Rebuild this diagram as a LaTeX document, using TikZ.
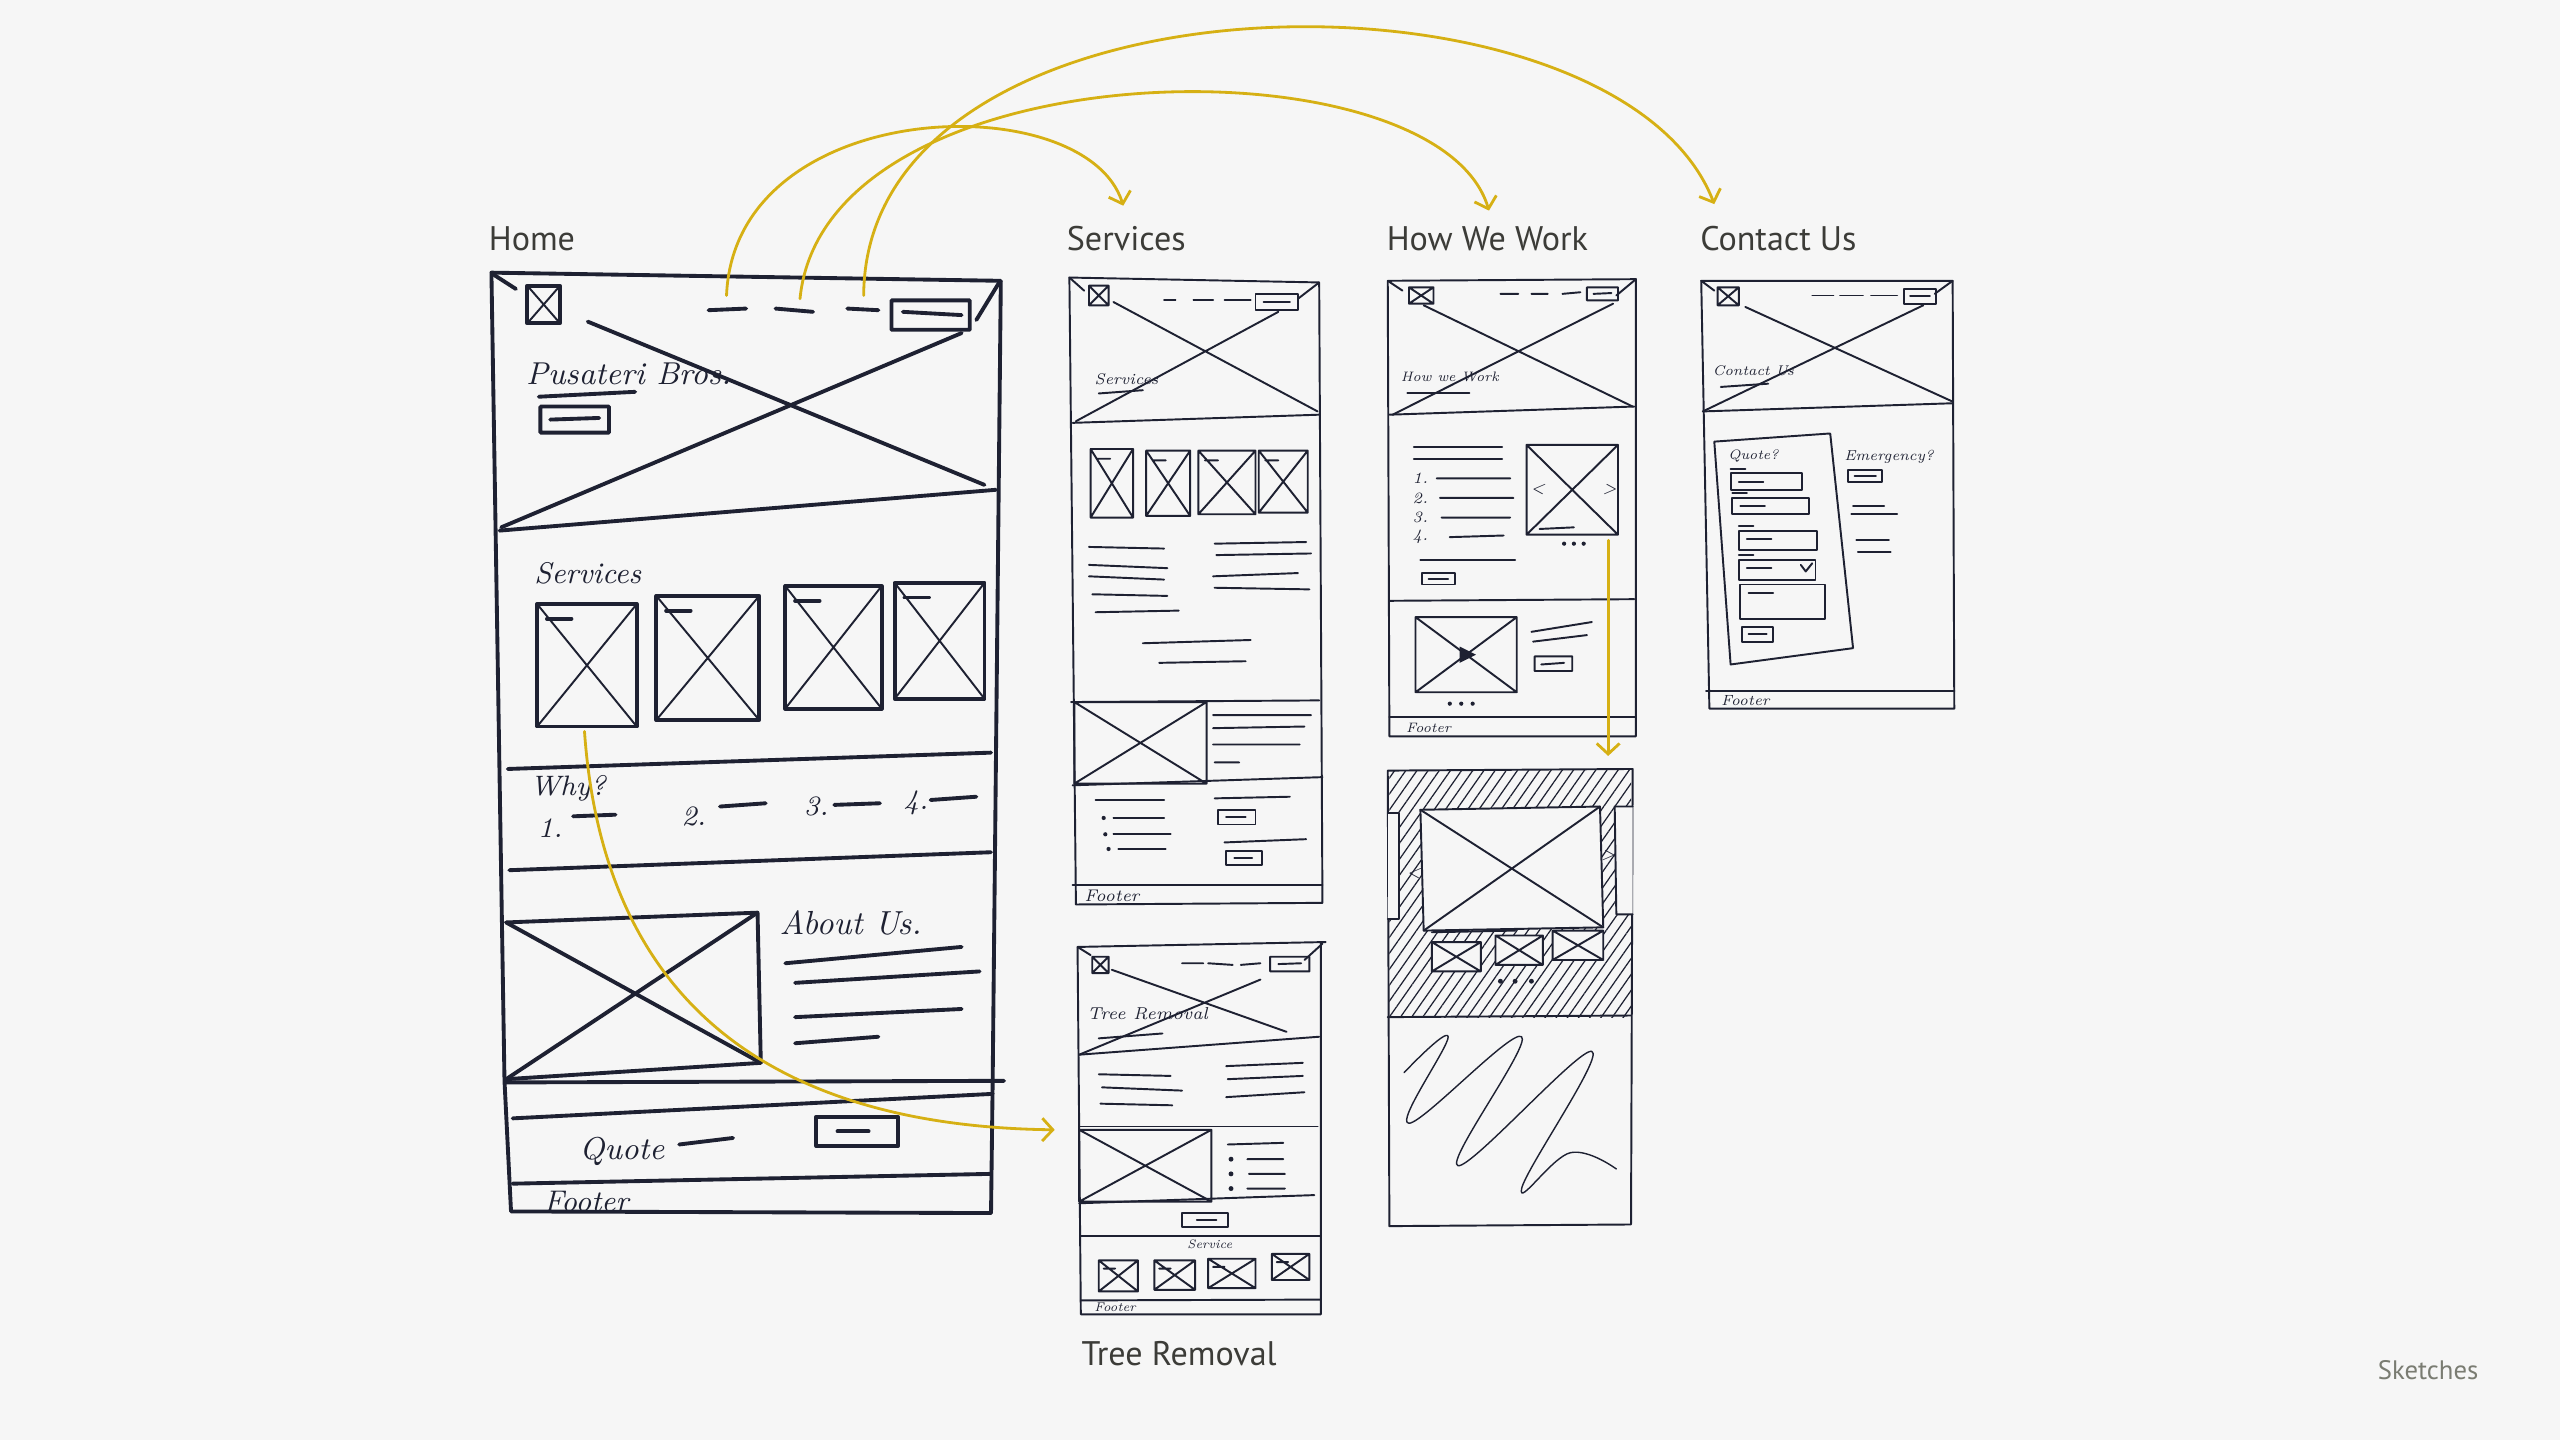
\documentclass[tikz,border=0pt]{standalone}
\usepackage{fontspec}
\newfontfamily\titlefont{PT Sans}
\usetikzlibrary{arrows.meta,patterns.meta}
\definecolor{bgc}{RGB}{246,246,246}
\definecolor{inkc}{RGB}{30,33,50}
\definecolor{linkc}{RGB}{214,176,20}
\definecolor{titlec}{RGB}{60,60,56}
\definecolor{notec}{RGB}{122,124,114}

\begin{document}
\begin{tikzpicture}[
    x=0.016327cm, y=-0.016327cm,
    >={Straight Barb[length=3pt,width=6.5pt]},
    ink/.style={draw=inkc, line width=0.55pt, line cap=round, line join=round},
    heavy/.style={ink, line width=1.1pt},
    fine/.style={ink, line width=0.4pt},
    hand/.style={text=inkc, inner sep=0pt, font=\itshape\fontsize{#1}{#1}\selectfont},
    hand/.default=5,
    title/.style={anchor=west, inner sep=0pt, text=titlec, font=\titlefont\fontsize{9.7}{11}\selectfont},
    link/.style={draw=linkc, line width=0.8pt, line cap=round, ->}
]
\path[use as bounding box, fill=bgc] (0,0) rectangle (1568,882);

% titres
\node[title] (home)    at (299,146)  {Home};
\node[title] (services) at (653,146) {Services};
\node[title] (howwork) at (849,146)  {How We Work};
\node[title] (contact) at (1041,146) {Contact Us};
\node[title] (treerem) at (662,829)  {Tree Removal};
\node[title, text=notec, font=\titlefont\fontsize{7.6}{9}\selectfont] (sketches) at (1456,839) {Sketches};

% Home : cadre et en-tete
\draw[heavy] (301,167) -- (613,172) -- (608,663) -- (607,743) -- (313,742) -- (309,662) -- cycle;
\draw[heavy] (323,175) rectangle (343,198);
\draw[ink] (323,175) -- (343,198) (323,198) -- (343,175);
\draw[heavy] (302,168) -- (316,177) (612,173) -- (598,196);
\draw[heavy] (434,190) -- (457,189) (475,189) -- (498,191) (519,189) -- (538,190);
\draw[heavy] (546,184) rectangle (594,202) (553,191) -- (589,193);
\draw[heavy] (360,197) -- (603,297) (307,323) -- (589,204);
\draw[heavy] (306,325) -- (610,300);
\node[hand=9] (hbrand) at (385,229) {Pusateri Bros.};
\draw[heavy] (330,243) -- (389,240);
\draw[heavy] (331,249) rectangle (373,265) (337,257) -- (367,256);

% Home : services
\node[hand=8.5] (hsrvtxt) at (360,351) {Services};
\foreach \xa/\ya/\xb/\yb in {329/370/390/445, 402/365/465/441, 481/359/540/434, 548/357/603/428}{
  \draw[heavy] (\xa,\ya) rectangle (\xb,\yb) ({\xa+6},{\ya+9}) -- ({\xa+21},{\ya+9});
  \draw[ink] (\xa,\ya) -- (\xb,\yb) (\xa,\yb) -- (\xb,\ya);
}
\draw[heavy] (311,471) -- (607,461);
\node[hand=8] (hwhy) at (348,483) {Why?};
\foreach \n/\px/\py in {1/337/507, 2/425/500, 3/500/494, 4/561/492}
  \node[hand=8] (hwhy\n) at (\px,\py) {\n.};
\draw[heavy] (351,500) -- (377,499) (441,494) -- (469,492) (511,493) -- (539,492) (570,490) -- (598,488);
\draw[heavy] (312,533) -- (607,522);

% Home : a propos, devis, pied
\draw[heavy] (310,565) -- (464,559) -- (466,651) -- (310,661);
\draw[heavy] (310,565) -- (466,651) (310,661) -- (464,559);
\node[hand=9.5] (habout) at (521,565) {About Us.};
\draw[heavy] (481,590) -- (589,580) (487,602) -- (600,595) (487,623) -- (589,618) (487,639) -- (538,635);
\draw[heavy] (310,663) -- (615,662);
\draw[heavy] (314,685) -- (608,670);
\node[hand=9] (hquote) at (381,705) {Quote};
\draw[heavy] (416,701) -- (449,697);
\draw[heavy] (500,684) rectangle (550,702) (513,693) -- (532,693);
\draw[heavy] (314,725) -- (607,719);
\node[hand=8.5] (hfoot) at (359,736) {Footer};

% page Services
\draw[ink] (655,170) -- (808,173) -- (810,553) -- (659,554) -- cycle;
\draw[ink] (667,175) rectangle (679,187) (667,175) -- (679,187) (667,187) -- (679,175);
\draw[ink] (655,170) -- (664,178) (808,173) -- (795,183);
\draw[ink] (713,184) -- (720,184) (731,184) -- (743,184) (750,184) -- (766,184);
\draw[ink] (769,180) rectangle (795,190) (774,185) -- (790,185);
\draw[ink] (682,185) -- (807,252) (659,258) -- (783,191);
\draw[ink] (657,259) -- (808,254);
\node[hand=4.4] (ssrv) at (690,232) {Services};
\draw[ink] (673,241) -- (700,239);
\foreach \xa/\ya/\xb/\yb in {668/275/694/317, 702/276/729/316, 734/276/769/315, 771/276/801/314}
  \draw[ink] (\xa,\ya) rectangle (\xb,\yb) (\xa,\ya) -- (\xb,\yb) (\xa,\yb) -- (\xb,\ya) ({\xa+4},{\ya+6}) -- ({\xa+12},{\ya+6});
\draw[ink] (667,335) -- (713,336) (667,346) -- (715,348) (667,353) -- (713,355) (669,364) -- (715,365) (671,375) -- (722,374);
\draw[ink] (744,333) -- (800,332) (745,340) -- (803,339) (743,353) -- (795,351) (744,360) -- (802,361);
\draw[ink] (700,394) -- (766,392) (710,406) -- (763,405);
\draw[ink] (656,430) -- (808,429);
\draw[ink] (658,430) rectangle (739,480) (658,430) -- (739,480) (658,480) -- (739,430);
\draw[ink] (743,438) -- (803,438) (743,446) -- (799,445) (743,456) -- (796,456) (744,467) -- (759,467);
\draw[ink] (657,481) -- (810,476);
\draw[ink] (671,490) -- (713,490) (682,501) -- (713,501) (682,511) -- (717,511) (685,520) -- (714,520);
\fill[inkc] (676,501) circle (0.6pt) (677,511) circle (0.6pt) (679,520) circle (0.6pt);
\draw[ink] (744,489) -- (790,488);
\draw[ink] (746,496) rectangle (769,505) (751,500.5) -- (763,500.5);
\draw[ink] (750,516) -- (800,514);
\draw[ink] (751,521) rectangle (773,530) (756,525.5) -- (767,525.5);
\draw[ink] (657,542) -- (810,542);
\node[hand=4.8] (sfoot) at (681,549) {Footer};

% page Tree Removal
\draw[ink] (660,580) -- (812,577) (809,577) -- (809,805) -- (662,805) -- (660,580);
\draw[ink] (669,586) rectangle (679,596) (669,586) -- (679,596) (669,596) -- (679,586);
\draw[ink] (660,580) -- (668,585) (810,578) -- (799,588);
\draw[ink] (724,590) -- (737,590) (740,590) -- (755,591) (760,591) -- (772,590);
\draw[ink] (778,586) rectangle (802,595) (783,590.5) -- (797,590);
\draw[ink] (681,594) -- (788,632) (661,646) -- (772,600);
\draw[ink] (661,646) -- (808,635);
\node[hand=4.9] (ttree) at (703,621) {Tree Removal};
\draw[ink] (673,636) -- (712,633);
\draw[ink] (673,658) -- (717,659) (675,666) -- (724,668) (674,676) -- (718,677);
\draw[ink] (751,653) -- (798,651) (752,661) -- (798,659) (751,672) -- (799,669);
\draw[ink] (661,690) -- (807,690);
\draw[ink] (661,692) rectangle (742,736) (661,692) -- (742,736) (661,736) -- (742,692);
\draw[ink] (752,701) -- (786,700) (764,710) -- (786,710) (765,719) -- (787,719) (764,728) -- (787,728);
\fill[inkc] (754,710) circle (0.7pt) (754,719) circle (0.7pt) (754,728) circle (0.7pt);
\draw[ink] (661,737) -- (805,732);
\draw[ink] (724,743) rectangle (752,751.5) (733,747) -- (745,747);
\draw[ink] (662,757) -- (809,757);
\node[hand=3.5] (tsrv) at (741,762) {Service};
\foreach \xa/\ya/\xb/\yb in {673/772/697/791, 707/772/732/790, 740/771/769/789, 779/768/802/784}
  \draw[ink] (\xa,\ya) rectangle (\xb,\yb) (\xa,\ya) -- (\xb,\yb) (\xa,\yb) -- (\xb,\ya) ({\xa+3},{\ya+5}) -- ({\xa+10},{\ya+5});
\draw[ink] (662,796.5) -- (809,796);
\node[hand=3.6] (tfoot) at (683,801) {Footer};

% page How We Work
\draw[ink] (850,172) -- (1002,171) -- (1002,451) -- (851,451) -- cycle;
\draw[ink] (863,176) rectangle (878,186) (863,176) -- (878,186) (863,186) -- (878,176);
\draw[ink] (850,172) -- (859,178) (1002,171) -- (990,181);
\draw[ink] (919,180) -- (930,180) (938,180) -- (948,180) (957,180) -- (968,179);
\draw[ink] (972,176) rectangle (991,184) (976,180) -- (987,179.5);
\draw[ink] (872,187) -- (1000,249) (853,254) -- (988,186);
\draw[ink] (851,254) -- (1001,249);
\node[hand=3.9] (whww) at (888,231) {How we Work};
\draw[ink] (862,241) -- (900,241);
\draw[ink] (866,274) -- (920,274) (866,281) -- (920,281);
\foreach \n/\py in {1/293, 2/305, 3/317, 4/329}
  \node[hand=4.5] (wstep\n) at (870,\py) {\n.};
\draw[ink] (880,293) -- (925,293) (882,305) -- (927,305) (883,317) -- (925,317) (888,329) -- (921,328);
\draw[ink] (870,343) -- (928,343);
\draw[ink] (871,351) rectangle (891,358) (875,354.5) -- (887,354.5);
\draw[ink] (935,272.5) rectangle (991,327.5) (935,272.5) -- (991,327.5) (935,327.5) -- (991,272.5);
\node[hand=4.5] (wprev) at (942,300) {<};
\node[hand=4.5] (wnext) at (986,300) {>};
\draw[ink] (943,324) -- (964,323);
\fill[inkc] (958,333) circle (0.6pt) (964,333) circle (0.6pt) (970,333) circle (0.6pt);
\draw[ink] (851,368) -- (1001,367);
\draw[ink] (867,378) rectangle (929,424) (867,378) -- (929,424) (867,424) -- (929,378);
\fill[inkc] (894,396) -- (904,401) -- (894,406) -- cycle;
\fill[inkc] (888,431) circle (0.6pt) (895,431) circle (0.6pt) (902,431) circle (0.6pt);
\draw[ink] (938,387) -- (975,381) (939,393) -- (972,389);
\draw[ink] (940,402) rectangle (963,411) (944,407) -- (958,406);
\draw[ink] (851,439) -- (1002,439);
\node[hand=3.9] (wfoot) at (875,446) {Footer};

% page How We Work : suite
\fill[pattern={Lines[angle=55,distance=2.6pt,line width=0.35pt]}, pattern color=inkc] (851,472) rectangle (999,623);
\draw[ink] (850,472) -- (1000,471) -- (999,750) -- (851,751) -- cycle;
\draw[ink] (850,623) -- (999,622);
\filldraw[ink, fill=bgc] (850,498) -- (857,498) -- (857,563) -- (850,563);
\filldraw[ink, fill=bgc] (1000,494) -- (989,494) -- (990,560) -- (1000,560);
\filldraw[ink, fill=bgc] (870,496) -- (980,494) -- (982,568) -- (872,570) -- cycle;
\draw[ink] (870,496) -- (982,568) (872,570) -- (980,494);
\node[hand=4.5] (wprev2) at (866,535) {<};
\node[hand=4.5] (wnext2) at (985,524) {>};
\draw[ink] (877,571) -- (928,570);
\foreach \xa/\ya/\xb/\yb in {877/577/907/595, 916/573/945/591, 951/570/982/588}
  \filldraw[ink, fill=bgc] (\xa,\ya) rectangle (\xb,\yb) (\xa,\ya) -- (\xb,\yb) (\xa,\yb) -- (\xb,\ya);
\fill[inkc] (919,601) circle (0.7pt) (928,601) circle (0.7pt) (938,601) circle (0.7pt);
\draw[fine] plot[smooth, tension=0.7] coordinates {(860,657) (887,635) (863,688) (932,635) (893,714) (975,644) (932,728) (962,706) (990,716)};

% page Contact Us
\draw[ink] (1042,172) -- (1196,172) -- (1197,434) -- (1047,434) -- cycle;
\draw[ink] (1052,176) rectangle (1065,187) (1052,176) -- (1065,187) (1052,187) -- (1065,176);
\draw[ink] (1042,172) -- (1050,178) (1196,172) -- (1185,180);
\draw[ink] (1110,181) -- (1123,181) (1127,181) -- (1141,181) (1146,181) -- (1162,181);
\draw[ink] (1166,177) rectangle (1186,186) (1170,181.5) -- (1182,181.5);
\draw[ink] (1069,188) -- (1196,246) (1043,252) -- (1178,187);
\draw[ink] (1043,252) -- (1196,247);
\node[hand=4] (ccontact) at (1074,227) {Contact Us};
\draw[ink] (1054,237) -- (1083,235);
\draw[ink] (1050,270.5) -- (1121,265.5) -- (1135,397) -- (1060,407) -- cycle;
\node[hand=3.9] (cquote) at (1074,279) {Quote?};
\foreach \xa/\ya/\xb/\yb in {1060/290/1104/300, 1061/305/1108/315, 1065/325/1113/337, 1065/343/1112/355, 1066/358/1118/379}
  \draw[ink] (\xa,\ya) rectangle (\xb,\yb) (\xa,{\ya-3}) -- ({\xa+9},{\ya-3}) ({\xa+5},{\ya+5}) -- ({\xa+20},{\ya+5});
\draw[ink] (1103,346) -- (1106,350) -- (1110,345);
\draw[ink] (1067,384) rectangle (1086,393) (1071,388.5) -- (1082,388.5);
\node[hand=4.1] (cemerg) at (1157,280) {Emergency?};
\draw[ink] (1132,288) rectangle (1153,295) (1136,291.5) -- (1149,291.5);
\draw[ink] (1135,310) -- (1154,310) (1134,315) -- (1162,315) (1137,331) -- (1157,331) (1138,338) -- (1158,338);
\draw[ink] (1045,423) -- (1197,423);
\node[hand=4.2] (cfoot) at (1069,429) {Footer};

% fleches
\coordinate (hnav1) at (445,181);
\coordinate (hnav2) at (490,183);
\coordinate (hnav3) at (529,181);
\coordinate (srvin) at (688,126);
\coordinate (hwwin) at (912,129);
\coordinate (ctcin) at (1050,125);
\coordinate (hsrv)  at (358,448);
\coordinate (trin)  at (646,692);
\coordinate (wimg)  at (985,331);
\coordinate (w2in)  at (985,463);
\draw[link] (hnav1) .. controls (450,58) and (665,52) .. (srvin);
\draw[link] (hnav2) .. controls (505,28) and (880,22) .. (hwwin);
\draw[link] (hnav3) .. controls (530,-25) and (990,-30) .. (ctcin);
\draw[link] (hsrv) .. controls (370,620) and (480,690) .. (trin);
\draw[link] (wimg) -- (w2in);

\end{tikzpicture}
\end{document}
